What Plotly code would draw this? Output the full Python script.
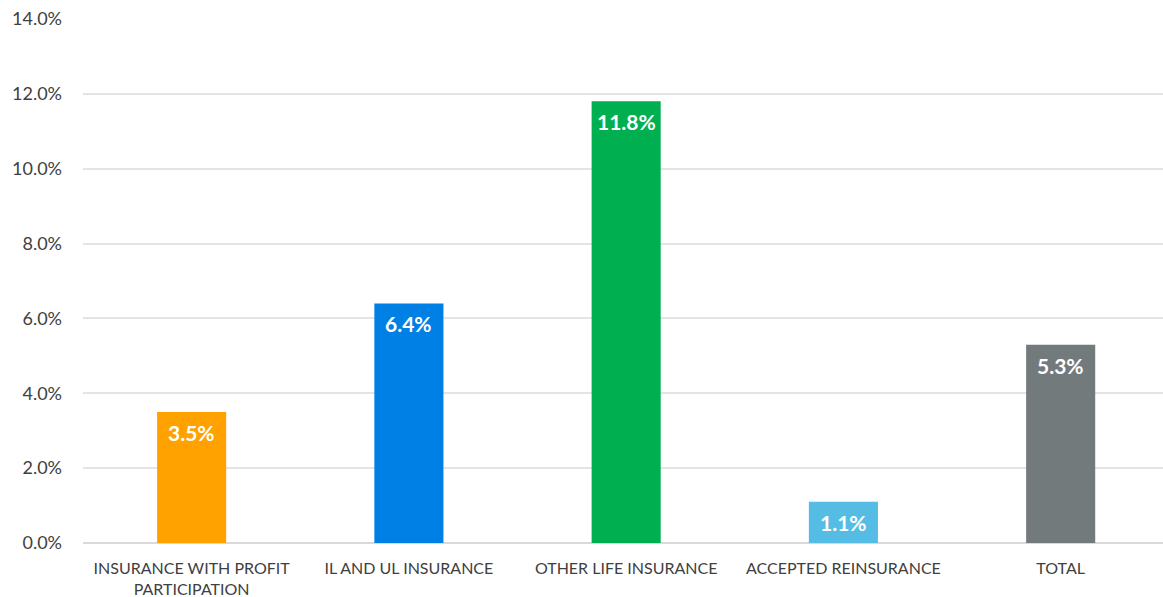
import plotly.graph_objects as go

categories = [
    "INSURANCE WITH PROFIT<br>PARTICIPATION",
    "IL AND UL INSURANCE",
    "OTHER LIFE INSURANCE",
    "ACCEPTED REINSURANCE",
    "TOTAL",
]
values = [3.5, 6.4, 11.8, 1.1, 5.3]
bar_colors = ["#FFA200", "#0080E4", "#00B050", "#55BDE4", "#737A7C"]
y_ticks = [0, 2, 4, 6, 8, 10, 12, 14]
y_tick_labels = [f"{v:.1f}%" for v in y_ticks]

fig = go.Figure(
    go.Bar(
        x=categories,
        y=values,
        width=0.318,
        marker=dict(color=bar_colors, line=dict(width=0)),
        hoverinfo="x+y",
    )
)

# value labels sitting just inside the top of each bar
for cat, val in zip(categories, values):
    fig.add_annotation(
        x=cat,
        y=val,
        text=f"<b>{val:.1f}%</b>",
        showarrow=False,
        yanchor="top",
        yshift=-6,
        font=dict(family="Lato", size=21, color="white"),
    )

fig.update_layout(
    width=1163,
    height=597,
    margin=dict(l=83, r=0, t=19, b=54),
    paper_bgcolor="white",
    plot_bgcolor="white",
    showlegend=False,
    font=dict(family="Lato", color="#404040"),
)
fig.update_xaxes(
    range=[-0.5, 4.471],
    showgrid=False,
    showline=False,
    ticks="",
    ticklabelstandoff=14,
    tickfont=dict(family="Lato", size=16, color="#404040"),
)
fig.update_yaxes(
    range=[0, 14],
    tickvals=y_ticks,
    ticktext=y_tick_labels,
    showgrid=True,
    gridcolor="#E4E4E4",
    gridwidth=1.5,
    zeroline=True,
    zerolinecolor="#D9D9D9",
    zerolinewidth=1.5,
    ticks="",
    ticklabelstandoff=20,
    tickfont=dict(family="Lato", size=18, color="#404040"),
)

fig.write_html("out.html")
